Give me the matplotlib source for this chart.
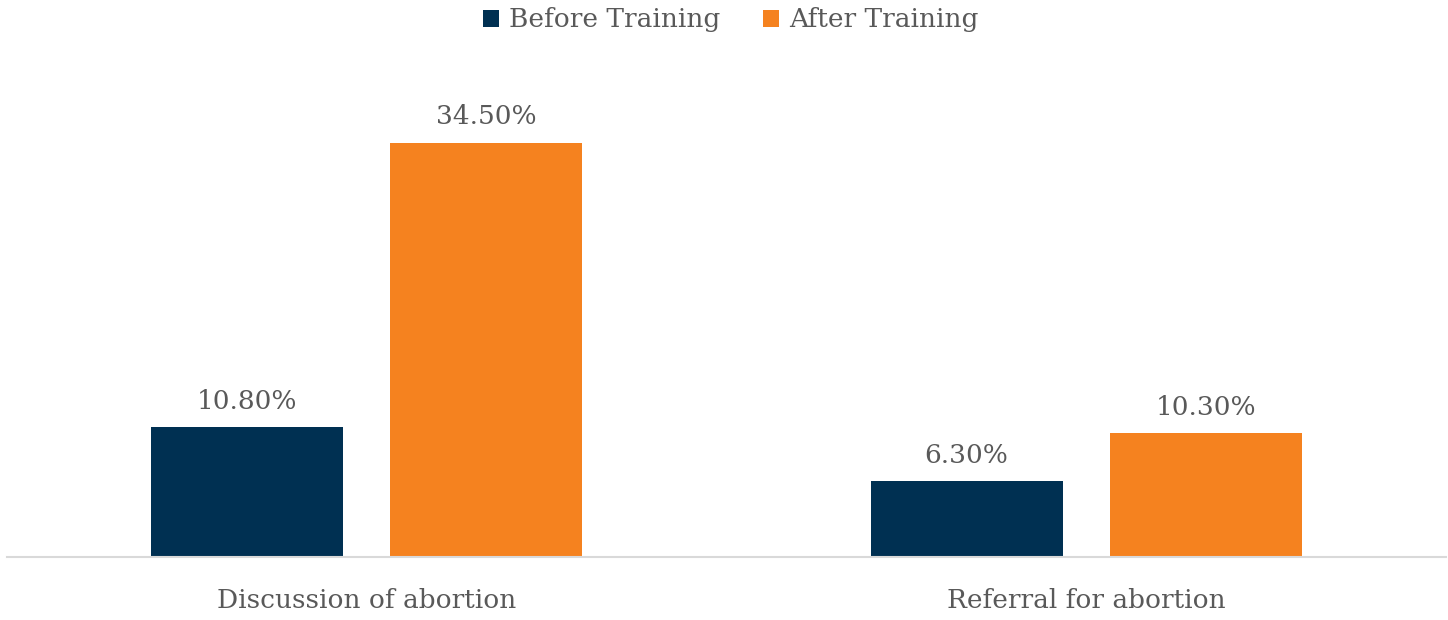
import matplotlib
matplotlib.use("Agg")
import matplotlib.pyplot as plt
import numpy as np

categories = ["Discussion of abortion", "Referral for abortion"]
before = [10.8, 6.3]
after = [34.5, 10.3]
series_names = ["Before Training", "After Training"]
colors = ["#003052", "#F5821F"]

plt.rcParams['font.family'] = ['DejaVu Serif']
txt = "#595959"

fig = plt.figure(figsize=(14.48, 6.2), dpi=100)
ax = fig.add_axes([6.5/1448, 63/620, 1439.5/1448, 480/620])

x = np.arange(len(categories))
w = 0.267
off = 0.166
b1 = ax.bar(x - off, before, w, color=colors[0], label=series_names[0])
b2 = ax.bar(x + off, after, w, color=colors[1], label=series_names[1])

for bars, vals in ((b1, before), (b2, after)):
    for r, v in zip(bars, vals):
        ax.annotate(f"{v:.2f}%", (r.get_x() + r.get_width()/2, v),
                    xytext=(0, 10), textcoords="offset points",
                    ha="center", va="bottom", fontsize=19, color=txt)

ax.set_xlim(-0.5, 1.5)
ax.set_ylim(0, 40)
ax.set_xticks(x)
ax.set_xticklabels(categories, fontsize=19, color=txt)
ax.tick_params(axis="x", length=0, pad=22)
ax.set_yticks([])
for s in ["top", "right", "left"]:
    ax.spines[s].set_visible(False)
ax.spines["bottom"].set_color("#d9d9d9")
ax.spines["bottom"].set_linewidth(1.5)

leg = fig.legend(loc="center", bbox_to_anchor=(731/1448, 1 - 20/620), ncol=2,
                 frameon=False, fontsize=19, handlelength=0.6, handleheight=0.6,
                 handletextpad=0.4, columnspacing=1.6)
for t in leg.get_texts():
    t.set_color(txt)

fig.savefig("out.png", dpi=100)
